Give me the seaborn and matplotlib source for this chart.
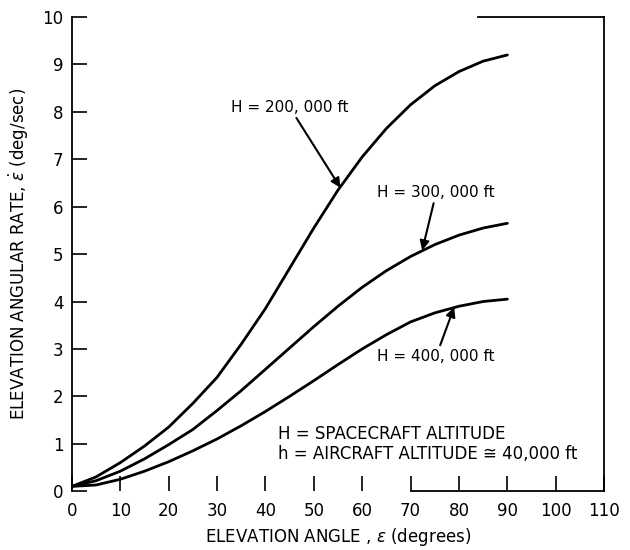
import pandas as pd
import matplotlib.pyplot as plt
import seaborn as sns

# Elevation angle (degrees) and elevation angular rate (deg/sec)
angle = [0, 5, 10, 15, 20, 25, 30, 35, 40, 45, 50, 55, 60, 65, 70, 75, 80, 85, 90]
rate_200k = [0.1, 0.3, 0.6, 0.95, 1.35, 1.85, 2.4, 3.1, 3.85, 4.7, 5.55, 6.35, 7.05, 7.65, 8.15, 8.55, 8.85, 9.07, 9.2]
rate_300k = [0.1, 0.22, 0.42, 0.68, 0.98, 1.3, 1.7, 2.12, 2.57, 3.02, 3.47, 3.9, 4.3, 4.65, 4.95, 5.2, 5.4, 5.55, 5.65]
rate_400k = [0.1, 0.13, 0.25, 0.42, 0.62, 0.85, 1.1, 1.38, 1.68, 2.0, 2.33, 2.67, 3.0, 3.3, 3.57, 3.76, 3.9, 4.0, 4.05]
altitudes = ["200,000", "300,000", "400,000"]

x_ticks = [0, 10, 20, 30, 40, 50, 60, 70, 80, 90, 100, 110]
y_ticks = [0, 1, 2, 3, 4, 5, 6, 7, 8, 9, 10]

df = pd.DataFrame({
    "angle": angle * 3,
    "rate": rate_200k + rate_300k + rate_400k,
    "H": [a for a in altitudes for _ in angle],
})

sns.set_style("ticks")
plt.rcParams['font.family'] = ['DejaVu Sans']
plt.rcParams['text.color'] = 'black'
plt.rcParams['axes.labelcolor'] = 'black'

fig = plt.figure(figsize=(6.3, 5.5), dpi=100)
ax = fig.add_axes([0.114, 0.107, 0.845, 0.862])

sns.lineplot(data=df, x="angle", y="rate", hue="H", palette=["black"] * 3,
             linewidth=2.0, legend=False, ax=ax)

ax.set_xlim(0, 110)
ax.set_ylim(0, 10)
ax.set_xticks(x_ticks)
ax.set_yticks(y_ticks)
ax.tick_params(axis="both", direction="in", length=11, width=1.2, labelsize=12,
               colors="black", labelcolor="black")
ax.tick_params(axis="x", pad=8)
ax.tick_params(axis="y", pad=6)

# the scanned frame: left/right full, top and bottom only partly drawn
for s in ax.spines.values():
    s.set_linewidth(1.3)
    s.set_color("black")
ax.spines["top"].set_bounds(84, 110)
ax.spines["bottom"].set_bounds(70, 110)

ax.set_xlabel(r"ELEVATION ANGLE , $\epsilon$ (degrees)", fontsize=12, labelpad=4, color="black")
ax.set_ylabel(r"ELEVATION ANGULAR RATE, $\dot{\epsilon}$ (deg/sec)", fontsize=12, labelpad=8, color="black")

arrow = dict(arrowstyle="-|>", color="black", lw=1.5, mutation_scale=14, shrinkA=0, shrinkB=0)
ax.annotate("H = 200, 000 ft", xy=(55.5, 6.4), xytext=(45, 8.1), fontsize=11, color="black",
            ha="center", va="center", arrowprops=arrow)
ax.annotate("H = 300, 000 ft", xy=(72.4, 5.08), xytext=(75.3, 6.3), fontsize=11, color="black",
            ha="center", va="center", arrowprops=arrow)
ax.annotate("H = 400, 000 ft", xy=(79, 3.88), xytext=(75.3, 2.85), fontsize=11, color="black",
            ha="center", va="center", arrowprops=arrow)

ax.text(42.5, 1.2, "H = SPACECRAFT ALTITUDE", fontsize=12, va="center", color="black")
ax.text(42.5, 0.78, "h = AIRCRAFT ALTITUDE \u2245 40,000 ft", fontsize=12, va="center", color="black")

fig.savefig("out.png", dpi=100)
